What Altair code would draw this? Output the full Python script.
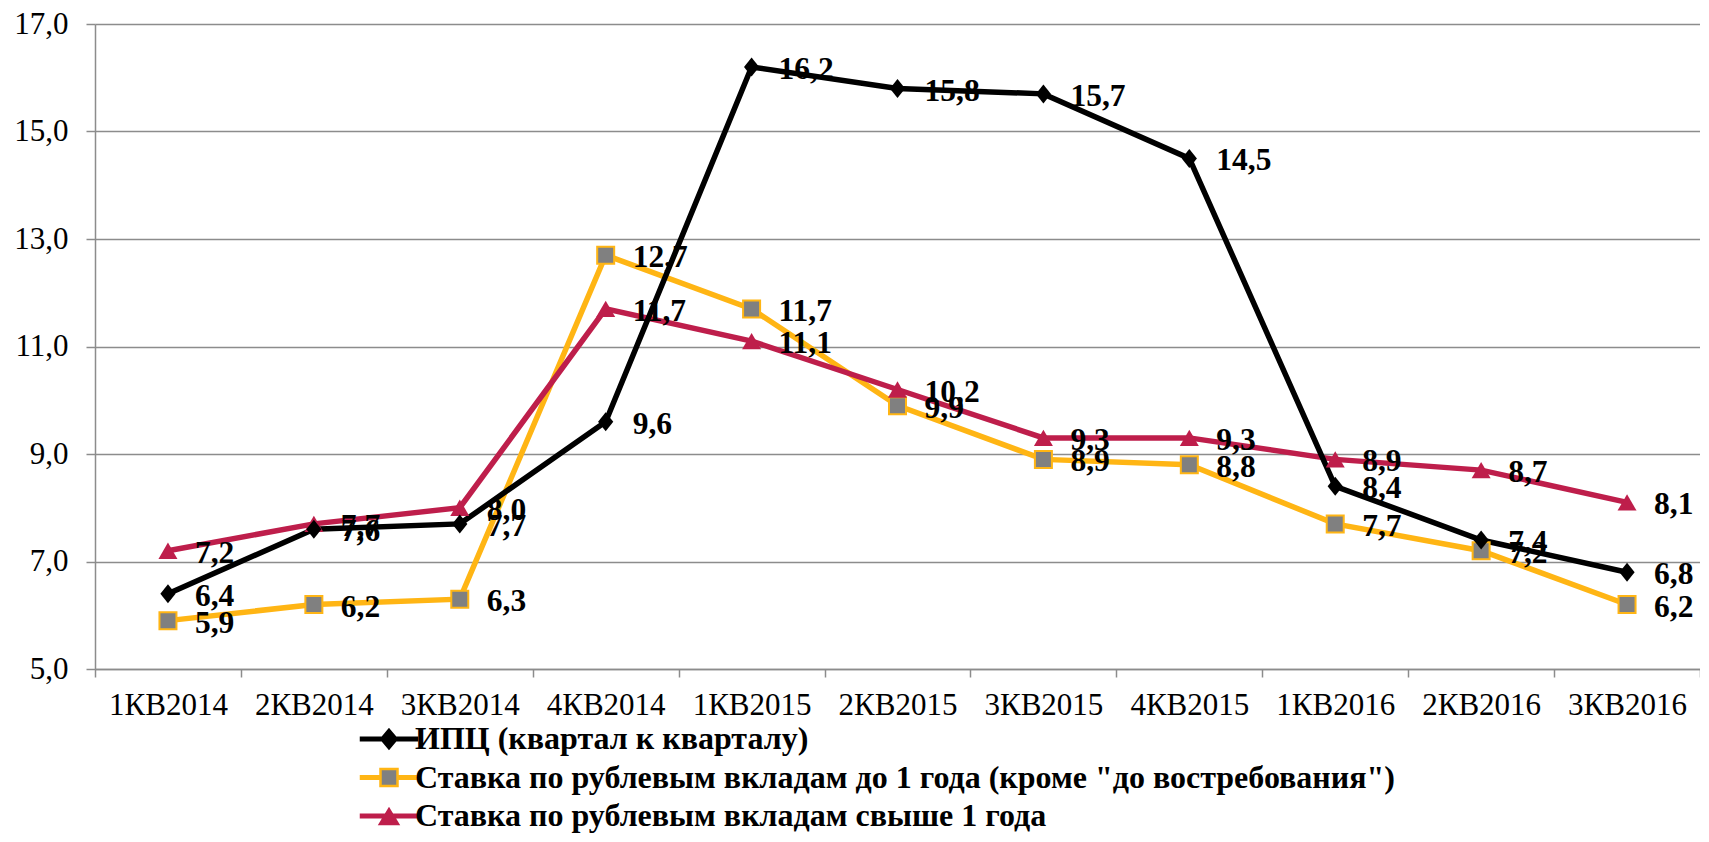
import altair as alt
import pandas as pd

quarters = ["1КВ2014", "2КВ2014", "3КВ2014", "4КВ2014", "1КВ2015", "2КВ2015",
            "3КВ2015", "4КВ2015", "1КВ2016", "2КВ2016", "3КВ2016"]
series_names = [
    "ИПЦ (квартал к кварталу)",
    "Ставка по рублевым вкладам до 1 года (кроме \"до востребования\")",
    "Ставка по рублевым вкладам свыше 1 года",
]
cpi = [6.4, 7.6, 7.7, 9.6, 16.2, 15.8, 15.7, 14.5, 8.4, 7.4, 6.8]
rate_short = [5.9, 6.2, 6.3, 12.7, 11.7, 9.9, 8.9, 8.8, 7.7, 7.2, 6.2]
rate_long = [7.2, 7.7, 8.0, 11.7, 11.1, 10.2, 9.3, 9.3, 8.9, 8.7, 8.1]
y_ticks = [5, 7, 9, 11, 13, 15, 17]

BLACK = "#000000"
ORANGE = "#FFB514"
CRIMSON = "#BE1E4B"
GRAY = "#808080"
GRID = "#8c8c8c"
FONT = "Liberation Serif, Times New Roman, serif"

rows = []
for name, vals in zip(series_names, [cpi, rate_short, rate_long]):
    for q, v in zip(quarters, vals):
        rows.append({"q": q, "series": name, "v": v,
                     "label": f"{v:.1f}".replace(".", ",")})
df = pd.DataFrame(rows)

x_enc = alt.X("q:N", sort=quarters, bandPosition=0.5,
              scale=alt.Scale(type="band", paddingInner=0, paddingOuter=0),
              axis=alt.Axis(title=None, labelAngle=0, labelFont=FONT, labelFontSize=31,
                            labelColor="#000000", tickBand="extent", tickSize=8,
                            tickColor=GRID, tickWidth=1.5, domainColor=GRID,
                            domainWidth=1.5, labelPadding=13, grid=False))
y_enc = alt.Y("v:Q", scale=alt.Scale(domain=[5, 17], nice=False, zero=False),
              axis=alt.Axis(title=None, values=y_ticks, labelFont=FONT, labelFontSize=31,
                            labelColor="#000000",
                            labelExpr="replace(format(datum.value, '.1f'), '.', ',')",
                            tickSize=9, tickColor=GRID, tickWidth=1.5,
                            domainColor=GRID, domainWidth=1.5, labelPadding=18,
                            gridColor=GRID, gridWidth=1.5))

base = alt.Chart(df)

styles = {
    series_names[0]: dict(color=BLACK, shape="M0,-1L0.8,0L0,1L-0.8,0Z", fill=BLACK,
                          stroke=BLACK, sw=0, size=361),
    series_names[1]: dict(color=ORANGE, shape="square", fill=GRAY, stroke=ORANGE,
                          sw=2, size=289),
    series_names[2]: dict(color=CRIMSON, shape="triangle-up", fill=CRIMSON,
                          stroke=CRIMSON, sw=0, size=361),
}
draw_order = [series_names[1], series_names[2], series_names[0]]

lines, points, texts = [], [], []
for name in draw_order:
    st = styles[name]
    sub = base.transform_filter(alt.datum.series == name)
    lines.append(sub.mark_line(color=st["color"], strokeWidth=5.5).encode(x=x_enc, y=y_enc))
    points.append(sub.mark_point(shape=st["shape"], filled=True, fill=st["fill"],
                                 stroke=st["stroke"], strokeWidth=st["sw"],
                                 size=st["size"], opacity=1).encode(x=x_enc, y=y_enc))
    texts.append(sub.mark_text(font=FONT, fontWeight="bold", fontSize=31.5, align="left",
                               baseline="middle", dx=27, dy=3, color="#000000")
                 .encode(x=x_enc, y=y_enc, text="label:N"))

# legend symbols: line segment + marker (custom paths, unit = 10px)
bar = "M-2.8,-0.13L2.8,-0.13L2.8,0.13L-2.8,0.13Z"
leg_shapes = [
    bar + "M0,-0.93L0.78,0L0,0.93L-0.78,0Z",
    "M-2.8,-0.13L-0.85,-0.13L-0.85,0.13L-2.8,0.13Z"
    "M0.85,-0.13L2.8,-0.13L2.8,0.13L0.85,0.13Z"
    "M-0.85,-0.85L0.85,-0.85L0.85,0.85L-0.85,0.85Z",
    bar + "M0,-0.68L0.9,0.8L-0.9,0.8Z",
]
leg = alt.Legend(title=None, orient="none", legendX=278, legendY=699, direction="vertical",
                 labelFont=FONT, labelFontWeight="bold", labelFontSize=32,
                 labelColor="#000000", labelLimit=3000, labelOffset=10, rowPadding=6.5,
                 symbolSize=400, symbolStrokeWidth=2.5, padding=0)
legend_layer = base.mark_point(opacity=1, clip=True, size=400, strokeWidth=2.5).encode(
    x=x_enc,
    y=alt.value(-1000),
    shape=alt.Shape("series:N", sort=series_names,
                    scale=alt.Scale(domain=series_names, range=leg_shapes), legend=leg),
    fill=alt.Fill("series:N", sort=series_names,
                  scale=alt.Scale(domain=series_names, range=[BLACK, GRAY, CRIMSON]),
                  legend=leg),
    stroke=alt.Stroke("series:N", sort=series_names,
                      scale=alt.Scale(domain=series_names, range=[BLACK, ORANGE, CRIMSON]),
                      legend=leg),
)

chart = alt.layer(*lines, *points, *texts, legend_layer).properties(
    width=1605, height=645,
    autosize=alt.AutoSizeParams(type="none"),
    padding={"left": 87, "top": 16, "right": 0, "bottom": 165},
    background="#ffffff",
).configure_view(strokeWidth=0)

chart.save("out.html", embed_options={"renderer": "svg", "actions": False})
